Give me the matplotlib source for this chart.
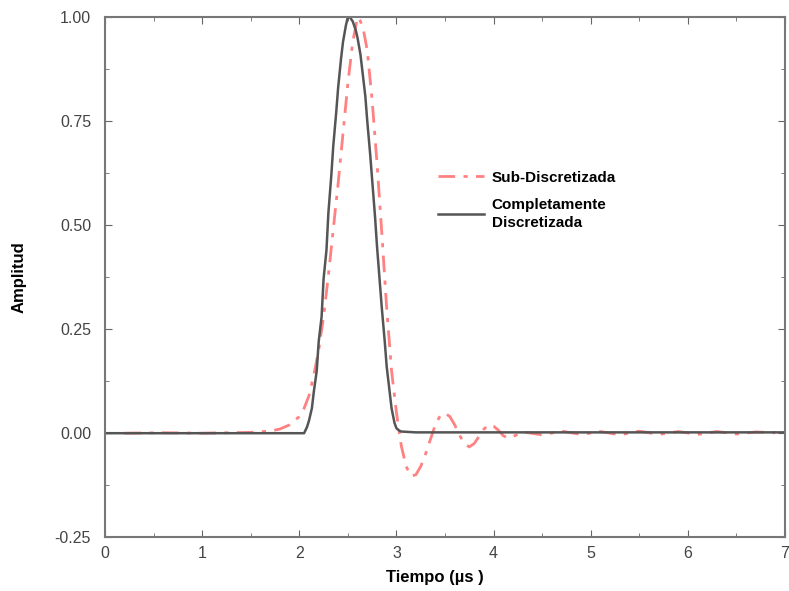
import numpy as np
import matplotlib.pyplot as plt
from matplotlib.ticker import MultipleLocator

plt.rcParams['font.family'] = ['Liberation Sans', 'DejaVu Sans']

# Fully discretized pulse (black)
t_full = [0.0, 1.0, 2.0, 2.05, 2.08, 2.1, 2.13, 2.15, 2.18, 2.2, 2.23, 2.25, 2.28,
          2.3, 2.33, 2.35, 2.38, 2.4, 2.43, 2.45, 2.48, 2.5, 2.52, 2.55, 2.58,
          2.6, 2.63, 2.65, 2.68, 2.7, 2.73, 2.75, 2.78, 2.8, 2.83, 2.85, 2.88,
          2.9, 2.93, 2.95, 2.98, 3.0, 3.03, 3.05, 3.2, 4.0, 5.0, 6.0, 7.0]
a_full = [0.0, 0.0, 0.0, 0.0, 0.015, 0.03, 0.06, 0.1, 0.15, 0.22, 0.28, 0.37, 0.44,
          0.53, 0.62, 0.69, 0.77, 0.83, 0.9, 0.94, 0.98, 1.0, 1.0, 0.99, 0.97,
          0.95, 0.91, 0.87, 0.81, 0.75, 0.67, 0.61, 0.52, 0.45, 0.36, 0.3, 0.22,
          0.16, 0.1, 0.06, 0.025, 0.012, 0.006, 0.004, 0.002, 0.002, 0.002, 0.002, 0.002]

# Under-discretized pulse (red)
t_sub = [0.2, 0.6, 1.0, 1.5, 1.7, 1.8, 1.9, 2.0, 2.05, 2.1, 2.15, 2.2, 2.25, 2.3,
         2.35, 2.4, 2.45, 2.5, 2.55, 2.6, 2.63, 2.66, 2.7, 2.75, 2.8, 2.85, 2.9,
         2.95, 3.0, 3.05, 3.1, 3.15, 3.2, 3.25, 3.3, 3.35, 3.4, 3.45, 3.5, 3.55,
         3.6, 3.65, 3.7, 3.75, 3.8, 3.85, 3.9, 3.95, 4.0, 4.05, 4.1, 4.15, 4.2,
         4.3, 4.5, 4.7, 4.9, 5.1, 5.3, 5.5, 5.7, 5.9, 6.1, 6.3, 6.5, 6.7, 6.9]
a_sub = [0.0, 0.001, 0.0, 0.002, 0.005, 0.01, 0.02, 0.04, 0.06, 0.09, 0.14, 0.2,
         0.28, 0.38, 0.49, 0.6, 0.72, 0.84, 0.94, 1.0, 0.99, 0.97, 0.92, 0.8,
         0.65, 0.48, 0.3, 0.15, 0.05, -0.03, -0.08, -0.103, -0.1, -0.08, -0.05,
         -0.015, 0.02, 0.042, 0.048, 0.04, 0.02, -0.005, -0.025, -0.033, -0.025,
         -0.008, 0.01, 0.02, 0.017, 0.007, -0.006, -0.012, -0.008, 0.003,
         -0.004, 0.005, -0.003, 0.004, -0.004, 0.005, -0.003, 0.004, -0.003,
         0.004, -0.002, 0.003, 0.001]

fig = plt.figure(figsize=(7.89, 5.91), dpi=100)
ax = fig.add_axes([0.133, 0.091, 0.862, 0.880])

ax.plot(t_sub, a_sub, color='#ff7373', lw=2, ls=(0, (6, 3, 1.5, 3)), alpha=0.9,
        label='Sub-Discretizada')
ax.plot(t_full, a_full, color='#555555', lw=1.8, label='Completamente\nDiscretizada')

ax.set_xlim(0, 7)
ax.set_ylim(-0.25, 1.0)
ax.xaxis.set_major_locator(MultipleLocator(1))
ax.xaxis.set_minor_locator(MultipleLocator(0.5))
ax.yaxis.set_major_locator(MultipleLocator(0.25))
ax.yaxis.set_minor_locator(MultipleLocator(0.125))
ax.yaxis.set_major_formatter(plt.FormatStrFormatter('%.2f'))
ax.tick_params(which='both', direction='in', top=True, right=True,
               colors='#666666', labelcolor='#444444', labelsize=11.5)
ax.tick_params(which='major', length=5)
ax.tick_params(which='minor', length=3)
ax.tick_params(axis='x', pad=6)
ax.tick_params(axis='y', pad=10)
for s in ax.spines.values():
    s.set_color('#777777')
    s.set_linewidth(1.5)

ax.set_xlabel('Tiempo (µs )', fontsize=12, fontweight='bold')
ax.set_ylabel('Amplitud', fontsize=12, fontweight='bold')
ax.xaxis.set_label_coords(0.485, -0.063)
ax.yaxis.set_label_coords(-0.115, 0.5)

leg = ax.legend(loc='upper left', bbox_to_anchor=(0.49, 0.705), frameon=False,
                handlelength=3.0, labelspacing=0.9, handletextpad=0.5,
                borderaxespad=0, borderpad=0,
                prop={'weight': 'bold', 'size': 11})
for t in leg.get_texts():
    t.set_linespacing(1.35)

fig.savefig('out.png', dpi=100)
